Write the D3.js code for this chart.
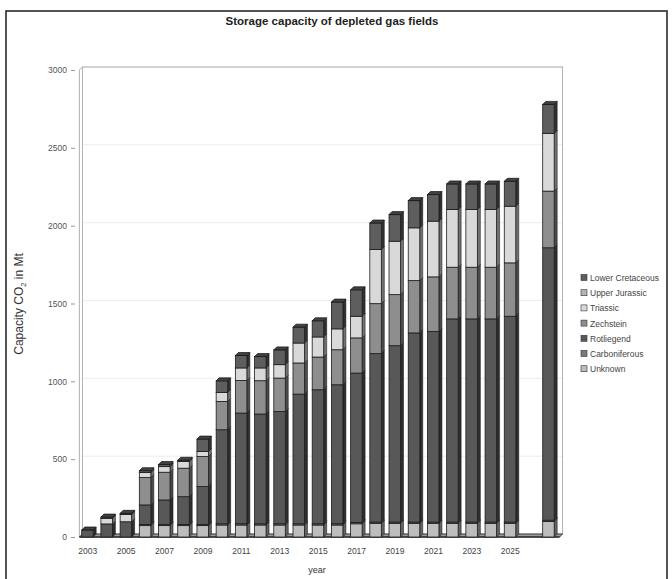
<!DOCTYPE html>
<html>
<head>
<meta charset="utf-8">
<script src="https://cdn.jsdelivr.net/npm/d3@7"></script>
<style>
  body { margin: 0; background: #fff; }
  svg { display: block; font-family: Arial, "Liberation Sans", sans-serif; }
</style>
</head>
<body>
<svg id="chart" width="672" height="579"></svg>
<script>
// Category slots: yearly totals 2003–2025, one empty slot, then the total capacity bar
const categories = ["2003","2004","2005","2006","2007","2008","2009","2010","2011","2012",
  "2013","2014","2015","2016","2017","2018","2019","2020","2021","2022","2023","2024","2025",
  "gap","total"];

// Series, listed from the bottom of each stack upwards (Mt CO2)
const seriesNames = ["Unknown","Carboniferous","Rotliegend","Zechstein","Triassic","Upper Jurassic","Lower Cretaceous"];

const unknown       = [0,0,0,73,73,73,73,77,77,77,77,77,77,77,85,88,88,88,88,88,88,88,88,0,100];
const carboniferous = [0,0,0,8,8,8,8,8,8,8,8,8,8,8,8,8,8,8,8,8,8,8,8,0,8];
const rotliegend    = [45,84,98,125,157,178,243,604,711,705,721,833,861,893,960,1082,1133,1215,1225,1305,1305,1305,1322,0,1750];
const zechstein     = [0,0,0,176,178,183,193,182,210,214,215,200,210,225,226,321,328,336,350,332,332,332,343,0,364];
const triassic      = [0,36,46,32,36,43,32,58,80,82,86,128,129,134,139,348,343,339,358,371,371,371,364,0,371];
const upperJurassic = [0,0,0,0,0,0,0,0,0,0,0,0,0,0,0,0,0,0,0,0,0,0,0,0,0];
const lowerCretaceous = [0,8,8,12,14,8,80,74,80,73,95,102,104,172,170,170,171,175,171,164,164,164,160,0,186];

const seriesColors = ["#bdbdbd","#7a7a7a","#585858","#8e8e8e","#d9d9d9","#b4b4b4","#5e5e5e"];

const yTicks = [0,500,1000,1500,2000,2500,3000];
const xTickLabels = ["2003","2005","2007","2009","2011","2013","2015","2017","2019","2021","2023","2025"];

// Legend order follows the visual stacking (top series first)
const legendOrder = ["Lower Cretaceous","Upper Jurassic","Triassic","Zechstein","Rotliegend","Carboniferous","Unknown"];

const columns = [unknown, carboniferous, rotliegend, zechstein, triassic, upperJurassic, lowerCretaceous];
const table = categories.map((c, i) => {
  const row = { category: c };
  seriesNames.forEach((s, k) => { row[s] = columns[k][i]; });
  return row;
});

const svg = d3.select("#chart");

// Outer frame
svg.append("rect").attr("x", 6).attr("y", 11).attr("width", 661).attr("height", 600)
  .attr("fill", "none").attr("stroke", "#2a2a2a").attr("stroke-width", 1.6);

// Title
svg.append("text").attr("x", 332).attr("y", 25).attr("text-anchor", "middle")
  .attr("font-size", 11.5).attr("font-weight", "bold").attr("fill", "#222")
  .text("Storage capacity of depleted gas fields");

const x = d3.scaleBand().domain(categories).range([79.4, 559.6]).padding(0);
const y = d3.scaleLinear().domain([0, 3000]).range([537, 70]);
const color = d3.scaleOrdinal().domain(seriesNames).range(seriesColors);

const depth = 3;        // 3-D offset of walls and bars
const faceOff = 2.3, faceW = 11.5;

// Back wall with faint gridlines
const wallL = 79.4 + depth, wallR = 559.6 + depth;
svg.append("g").selectAll("line").data(yTicks.slice(1)).join("line")
  .attr("x1", wallL).attr("x2", wallR)
  .attr("y1", d => y(d) - depth).attr("y2", d => y(d) - depth)
  .attr("stroke", "#ececec").attr("stroke-width", 1);
svg.append("rect").attr("x", wallL).attr("y", y(3000) - depth)
  .attr("width", wallR - wallL).attr("height", y(0) - y(3000))
  .attr("fill", "none").attr("stroke", "#a8a8a8").attr("stroke-width", 0.9);
// Side wall
svg.append("path")
  .attr("d", `M${79.4},${y(0)} L${79.4},${y(3000)} L${wallL},${y(3000) - depth}`)
  .attr("fill", "none").attr("stroke", "#a8a8a8").attr("stroke-width", 0.9);

// Floor
svg.append("path")
  .attr("d", `M${79.4},${y(0)} L${wallL},${y(0) - depth} L${wallR},${y(0) - depth} L${559.6},${y(0)} Z`)
  .attr("fill", "#9a9a9a").attr("stroke", "#3a3a3a").attr("stroke-width", 0.9);
svg.append("line").attr("x1", 79.4).attr("x2", 559.6).attr("y1", y(0)).attr("y2", y(0))
  .attr("stroke", "#333").attr("stroke-width", 1.4);

// Y axis ticks and labels
const yAxis = d3.axisLeft(y).tickValues(yTicks).tickSize(4).tickPadding(4).tickFormat(d3.format("d"));
const gy = svg.append("g").attr("transform", `translate(${75},0)`).call(yAxis);
gy.select(".domain").remove();
gy.selectAll(".tick line").attr("stroke", "#999");
gy.selectAll(".tick text").attr("font-size", 8.5).attr("fill", "#555").attr("font-family", "Arial, 'Liberation Sans', sans-serif");

// X axis labels (every other year)
const xAxis = d3.axisBottom(x).tickValues(xTickLabels).tickSize(0).tickPadding(11);
const gx = svg.append("g").attr("transform", `translate(0,${y(0)})`).call(xAxis);
gx.select(".domain").remove();
gx.selectAll(".tick text").attr("font-size", 8.5).attr("fill", "#444")
  .attr("dx", -faceOff + 1).attr("font-family", "Arial, 'Liberation Sans', sans-serif");

// Axis titles
svg.append("text").attr("x", 317).attr("y", 573).attr("text-anchor", "middle")
  .attr("font-size", 9).attr("fill", "#333").text("year");
const yt = svg.append("text").attr("transform", "translate(23,304) rotate(-90)")
  .attr("text-anchor", "middle").attr("font-size", 12).attr("fill", "#333");
yt.append("tspan").text("Capacity CO");
yt.append("tspan").attr("font-size", 7.5).attr("dy", 3).text("2");
yt.append("tspan").attr("dy", -3).text("  in Mt");

// Stacked 3-D columns
const stacked = d3.stack().keys(seriesNames)(table);
const topOf = {};
table.forEach(r => {
  topOf[r.category] = d3.sum(seriesNames, s => r[s]);
});

const bars = svg.append("g");
stacked.forEach(layer => {
  const c = color(layer.key);
  const g = bars.append("g").attr("class", "series");
  layer.forEach(d => {
    const v = d[1] - d[0];
    if (v <= 0) return;
    const cat = d.data.category;
    const fx = x(cat) + faceOff;
    const y0 = y(d[0]), y1 = y(d[1]);
    // right side face
    g.append("path")
      .attr("d", `M${fx + faceW},${y1} L${fx + faceW + depth},${y1 - depth} L${fx + faceW + depth},${y0 - depth} L${fx + faceW},${y0} Z`)
      .attr("fill", d3.color(c).darker(1.8)).attr("stroke", "#111").attr("stroke-width", 0.5);
    // front face
    g.append("rect").attr("x", fx).attr("y", y1).attr("width", faceW).attr("height", y0 - y1)
      .attr("fill", c).attr("stroke", "#1c1c1c").attr("stroke-width", 0.8);
    // top cap on the highest segment
    if (Math.abs(d[1] - topOf[cat]) < 1e-6) {
      g.append("path")
        .attr("d", `M${fx},${y1} L${fx + depth},${y1 - depth} L${fx + faceW + depth},${y1 - depth} L${fx + faceW},${y1} Z`)
        .attr("fill", d3.color(c).darker(1)).attr("stroke", "#111").attr("stroke-width", 0.7);
    }
  });
});

// Legend
const legend = svg.append("g").attr("transform", "translate(581,278)");
const li = legend.selectAll("g").data(legendOrder).join("g")
  .attr("transform", (d, i) => `translate(0,${i * 15.2})`);
li.append("rect").attr("x", 0).attr("y", -3.5).attr("width", 6).attr("height", 6)
  .attr("fill", d => color(d)).attr("stroke", "#333").attr("stroke-width", 0.6);
li.append("text").attr("x", 9).attr("y", 0).attr("dy", "0.35em")
  .attr("font-size", 8.5).attr("fill", "#444").text(d => d);
</script>
</body>
</html>
